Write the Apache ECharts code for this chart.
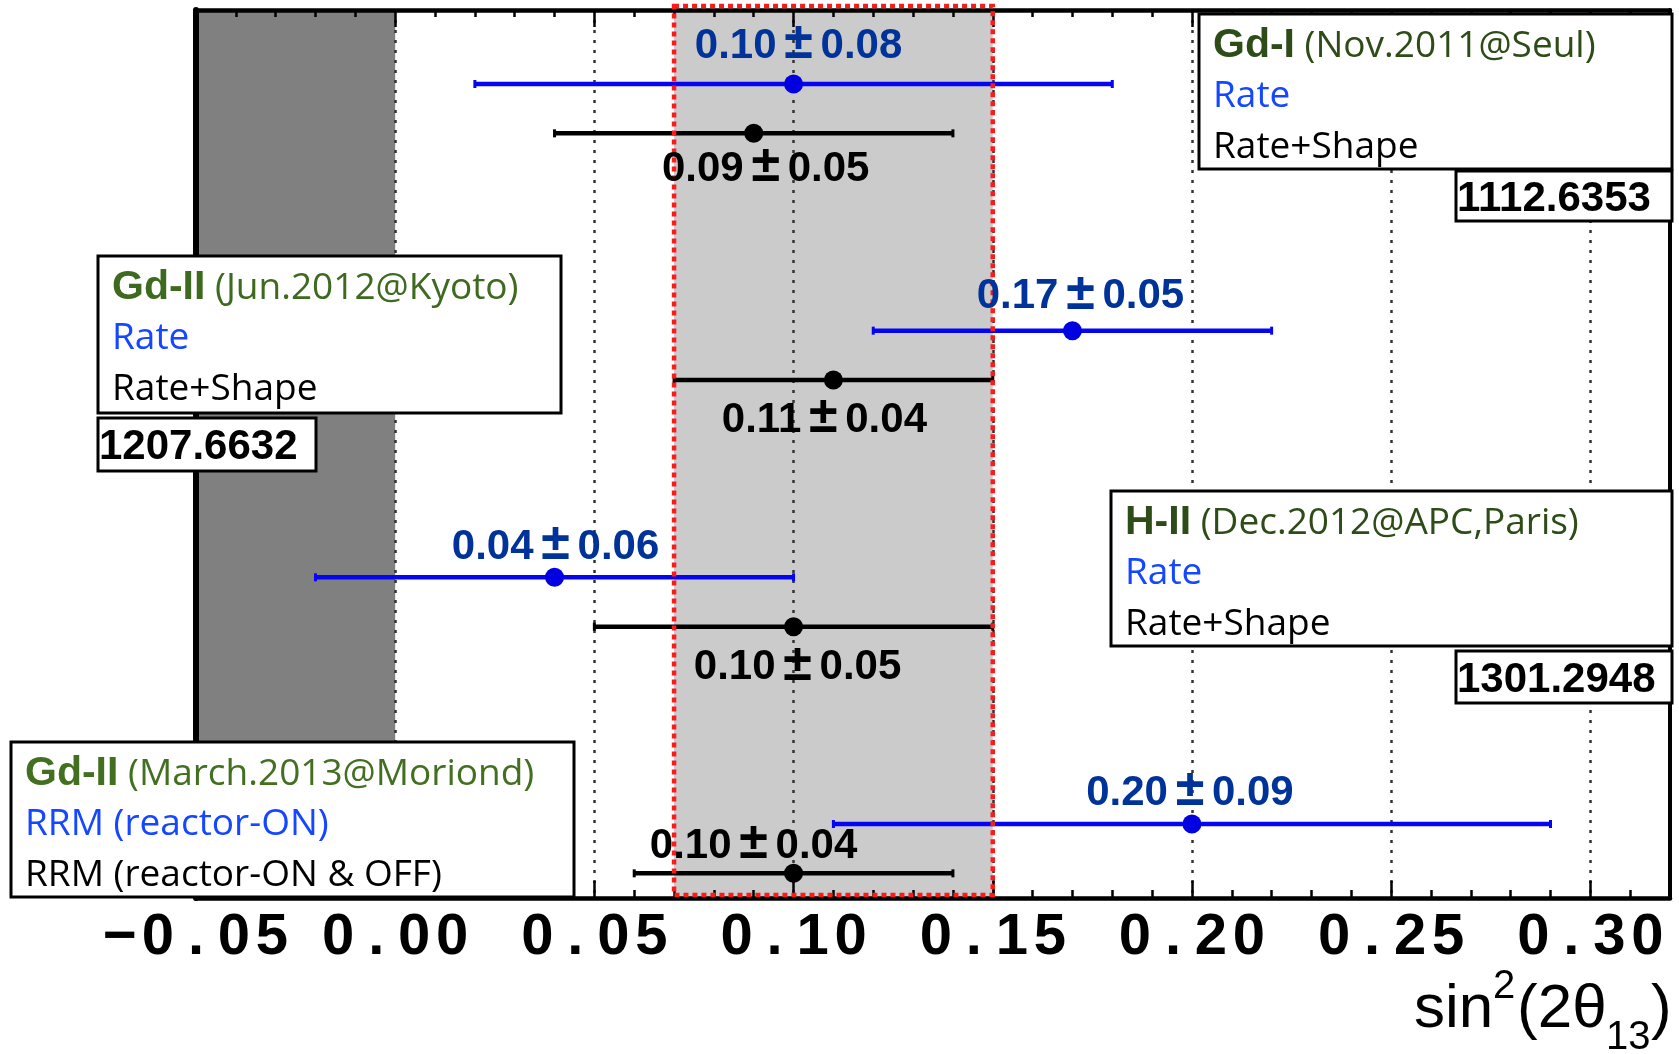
<!DOCTYPE html>
<html>
<head>
<meta charset="utf-8">
<title>sin2(2theta13) results</title>
<script src="https://cdn.jsdelivr.net/npm/echarts@6/dist/echarts.min.js"></script>
<style>
  html, body { margin: 0; padding: 0; background: #fff; }
  #main { width: 1679px; height: 1054px; }
</style>
</head>
<body>
<div id="main"></div>
<script>
// results, top to bottom: Gd-I, Gd-II (Kyoto), H-II, Gd-II (Moriond)
const rateValue = [0.10, 0.17, 0.04, 0.20];
const rateError = [0.08, 0.05, 0.06, 0.09];
const shapeValue = [0.09, 0.11, 0.10, 0.10];
const shapeError = [0.05, 0.04, 0.05, 0.04];

const excludedBand = [-0.05, 0.00];
const combinedBand = [0.07, 0.15];
const xTickValues = [-0.05, 0.00, 0.05, 0.10, 0.15, 0.20, 0.25, 0.30];

const boxTag = ['Gd-I', 'Gd-II', 'H-II', 'Gd-II'];
const boxWhen = ['(Nov.2011@Seul)', '(Jun.2012@Kyoto)', '(Dec.2012@APC,Paris)', '(March.2013@Moriond)'];
const boxRate = ['Rate', 'Rate', 'Rate', 'RRM (reactor-ON)'];
const boxShape = ['Rate+Shape', 'Rate+Shape', 'Rate+Shape', 'RRM (reactor-ON & OFF)'];
const arxivIds = ['1112.6353', '1207.6632', '1301.2948', null];

const X_MIN = -0.05, X_MAX = 0.32, Y_MAX = 36;
const BOLD = 'Liberation Sans';
const SOFT = '"Open Sans"';

// row layout: each result gets a blue row and a black row below it
const rateRow = i => 33 - 10 * i;
const shapeRow = i => 31 - 10 * i;

const rateLabelShift = [[5, -38], [8, -34], [1, -30], [-2, -31]];
const shapeLabelShift = [[12, 36], [-9, 40], [4, 41], [-40, -27]];

const boxLayout = [
    { x: 1199, y: 14, w: 473, h: 155, idX: 1456, idY: 171, idW: 216, idH: 50 },
    { x: 98, y: 256, w: 463, h: 157, idX: 98, idY: 418, idW: 218, idH: 53 },
    { x: 1111, y: 491, w: 561, h: 155, idX: 1456, idY: 651, idW: 216, idH: 52 },
    { x: 11, y: 742, w: 563, h: 155 }
];
const greens = ['#2d4c17', '#3e6a1f', '#2d4c17', '#436f21'];

function pm(v, e) {
    return '{n|' + v.toFixed(2) + '}{p|\u00b1}{n|' + e.toFixed(2) + '}';
}

function pmRich(color) {
    return {
        n: { fontFamily: BOLD, fontWeight: 'bold', fontSize: 42, color: color },
        p: { fontFamily: BOLD, fontWeight: 'bold', fontSize: 52, width: 44, align: 'center', padding: [0, 0, 5, 0], color: color }
    };
}

function tickLabel(v) {
    if (!xTickValues.some(t => Math.abs(t - v) < 1e-6)) return '';
    const s = (v < -1e-9 ? '\u2212' : '') + Math.abs(v).toFixed(2);
    return s.split('').map(ch => '{c|' + ch + '}').join('');
}

function errorBar(color) {
    return function (params, api) {
        const a = api.coord([api.value(1), api.value(0)]);
        const b = api.coord([api.value(2), api.value(0)]);
        const cap = { stroke: color, lineWidth: 3 };
        return {
            type: 'group',
            children: [
                { type: 'line', shape: { x1: a[0], y1: a[1], x2: b[0], y2: b[1] }, style: { stroke: color, lineWidth: 4.5 } },
                { type: 'line', shape: { x1: a[0], y1: a[1] - 4, x2: a[0], y2: a[1] + 4 }, style: cap },
                { type: 'line', shape: { x1: b[0], y1: b[1] - 4, x2: b[0], y2: b[1] + 4 }, style: cap }
            ]
        };
    };
}

function xAxisOf(position, interval, tickLen, withLine, withLabels) {
    return {
        type: 'value', position: position, min: X_MIN, max: X_MAX, interval: interval,
        axisLine: { show: withLine, onZero: false, lineStyle: { color: '#000', width: 4.5 } },
        axisTick: { show: true, inside: true, length: tickLen, lineStyle: { color: '#000', width: 2.5 } },
        axisLabel: withLabels ? {
            show: true, margin: 11, formatter: tickLabel,
            rich: { c: { width: 38, align: 'center', fontSize: 58, fontWeight: 'bold', fontFamily: BOLD, color: '#000' } }
        } : { show: false },
        splitLine: withLabels ? { show: true, lineStyle: { color: '#333', width: 2.5, type: [3, 7] } } : { show: false }
    };
}

const graphics = [];
boxLayout.forEach((b, i) => {
    graphics.push({
        type: 'rect', z: 10,
        shape: { x: b.x, y: b.y, width: b.w, height: b.h },
        style: { fill: '#fff', stroke: '#000', lineWidth: 3 }
    });
    graphics.push({
        type: 'text', z: 11, x: b.x + 14, y: b.y + 32,
        style: {
            text: '{t|' + boxTag[i] + '}{w| ' + boxWhen[i] + '}',
            verticalAlign: 'middle',
            rich: {
                t: { fontFamily: BOLD, fontWeight: 'bold', fontSize: 41, fill: greens[i] },
                w: { fontFamily: SOFT, fontSize: 37, fill: greens[i] }
            }
        }
    });
    graphics.push({
        type: 'text', z: 11, x: b.x + 14, y: b.y + 82,
        style: { text: boxRate[i], verticalAlign: 'middle', fontFamily: SOFT, fontSize: 37, fill: '#1447ff' }
    });
    graphics.push({
        type: 'text', z: 11, x: b.x + 14, y: b.y + 133,
        style: { text: boxShape[i], verticalAlign: 'middle', fontFamily: SOFT, fontSize: 37, fill: '#000' }
    });
    if (arxivIds[i]) {
        graphics.push({
            type: 'rect', z: 10,
            shape: { x: b.idX, y: b.idY, width: b.idW, height: b.idH },
            style: { fill: '#fff', stroke: '#000', lineWidth: 3 }
        });
        graphics.push({
            type: 'text', z: 11, x: b.idX + 1, y: b.idY + b.idH / 2 + 3,
            style: { text: arxivIds[i], verticalAlign: 'middle', fontFamily: BOLD, fontWeight: 'bold', fontSize: 42, fill: '#000' }
        });
    }
});

// axis title sin^2(2θ13)
const titleParts = [
    { text: 'sin', x: 1414, y: 1010, size: 62 },
    { text: '2', x: 1493, y: 987, size: 40 },
    { text: '(2\u03b8', x: 1517, y: 1010, size: 62 },
    { text: '13', x: 1606, y: 1038, size: 40 },
    { text: ')', x: 1651, y: 1010, size: 62 }
];
titleParts.forEach(p => {
    graphics.push({
        type: 'text', z: 11, x: p.x, y: p.y,
        style: { text: p.text, verticalAlign: 'middle', fontFamily: BOLD, fontSize: p.size, fill: '#000' }
    });
});

const myChart = echarts.init(document.getElementById('main'));

const option = {
    backgroundColor: '#fff',
    animation: false,
    grid: { left: 196, right: 9, top: 10, bottom: 156, outerBoundsMode: 'none', containLabel: false },
    xAxis: [
        xAxisOf('bottom', 0.05, 17, true, true),
        xAxisOf('bottom', 0.01, 8, false, false),
        xAxisOf('top', 0.05, 17, true, false),
        xAxisOf('top', 0.01, 7, false, false)
    ],
    yAxis: [
        {
            type: 'value', position: 'left', min: 0, max: Y_MAX,
            axisLine: { show: true, onZero: false, lineStyle: { color: '#000', width: 6 } },
            axisTick: { show: false }, axisLabel: { show: false }, splitLine: { show: false }
        },
        {
            type: 'value', position: 'right', min: 0, max: Y_MAX,
            axisLine: { show: true, onZero: false, lineStyle: { color: '#000', width: 4 } },
            axisTick: { show: false }, axisLabel: { show: false }, splitLine: { show: false }
        }
    ],
    graphic: graphics,
    series: [
        {
            // shaded regions under the grid lines
            type: 'custom', z: -1, silent: true,
            encode: { x: [0, 1], y: 2 },
            data: [[excludedBand[0], excludedBand[1], 0], [combinedBand[0], combinedBand[1], 0]],
            renderItem: function (params, api) {
                const a = api.coord([api.value(0), Y_MAX]);
                const b = api.coord([api.value(1), 0]);
                return {
                    type: 'rect',
                    shape: { x: a[0], y: a[1], width: b[0] - a[0], height: b[1] - a[1] },
                    style: { fill: params.dataIndex === 0 ? '#808080' : '#cbcbcb' }
                };
            }
        },
        {
            type: 'custom', z: 2, silent: true,
            encode: { x: [1, 2], y: 0 },
            data: rateValue.map((v, i) => [rateRow(i), v - rateError[i], v + rateError[i]]),
            renderItem: errorBar('#0505f2')
        },
        {
            type: 'custom', z: 2, silent: true,
            encode: { x: [1, 2], y: 0 },
            data: shapeValue.map((v, i) => [shapeRow(i), v - shapeError[i], v + shapeError[i]]),
            renderItem: errorBar('#000')
        },
        {
            // red dotted outline of the combined band
            type: 'custom', z: 3, silent: true,
            encode: { x: [0, 1], y: 2 },
            data: [[combinedBand[0], combinedBand[1], 0]],
            renderItem: function (params, api) {
                const a = api.coord([api.value(0), Y_MAX]);
                const b = api.coord([api.value(1), 0]);
                return {
                    type: 'rect',
                    shape: { x: a[0], y: a[1] - 4, width: b[0] - a[0], height: b[1] - a[1] + 1 },
                    style: { fill: 'none', stroke: '#ff1a1a', lineWidth: 4.5, lineDash: [5, 4] }
                };
            }
        },
        {
            type: 'scatter', z: 5, symbol: 'circle', symbolSize: 19,
            itemStyle: { color: '#0000e0', opacity: 1 },
            label: {
                show: true, position: 'inside', opacity: 1, rich: pmRich('#003399'),
                formatter: p => pm(rateValue[p.dataIndex], rateError[p.dataIndex])
            },
            data: rateValue.map((v, i) => ({ value: [v, rateRow(i)], label: { offset: rateLabelShift[i] } }))
        },
        {
            type: 'scatter', z: 5, symbol: 'circle', symbolSize: 19,
            itemStyle: { color: '#000', opacity: 1 },
            label: {
                show: true, position: 'inside', opacity: 1, rich: pmRich('#000'),
                formatter: p => pm(shapeValue[p.dataIndex], shapeError[p.dataIndex])
            },
            data: shapeValue.map((v, i) => ({ value: [v, shapeRow(i)], label: { offset: shapeLabelShift[i] } }))
        }
    ]
};

myChart.setOption(option);
</script>
</body>
</html>
